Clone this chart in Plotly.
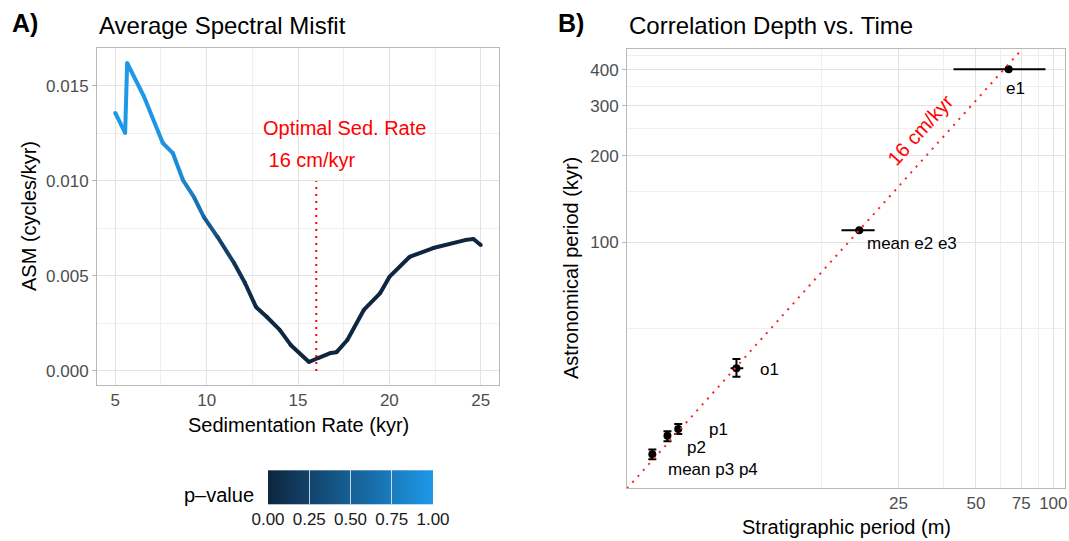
import plotly.graph_objects as go
from plotly.colors import sample_colorscale
import math

# ---------------- Panel A data ----------------
sed_rate = [5.0, 5.54, 5.65, 6.58, 7.6, 8.15, 8.7, 9.3, 9.85, 10.6, 11.5, 12.1, 12.7,
            13.3, 14.0, 14.6, 15.6, 16.1, 16.8, 17.1, 17.7, 18.6, 19.5, 20.0, 21.1,
            22.4, 24.2, 24.6, 25.0]
asm = [0.01358, 0.01253, 0.01621, 0.01442, 0.01200, 0.01147, 0.01005, 0.00916, 0.00810,
       0.00705, 0.00568, 0.00463, 0.00337, 0.00284, 0.00216, 0.00137, 0.00047, 0.00068,
       0.00095, 0.00098, 0.00163, 0.00321, 0.00410, 0.00495, 0.00600, 0.00647, 0.00690,
       0.00695, 0.00663]
p_value = [1.0, 1.0, 1.0, 1.0, 0.97, 0.93, 0.86, 0.75, 0.55, 0.32, 0.14, 0.06, 0.03,
           0.02, 0.01, 0.01, 0.0, 0.0, 0.0, 0.0, 0.0, 0.0, 0.0, 0.0, 0.0, 0.0, 0.0, 0.0, 0.0]
opt_rate = 16
opt_line_y = [0.0, 0.010]
cbar_ticks = [0.0, 0.25, 0.5, 0.75, 1.0]

# ---------------- Panel B data ----------------
labels = ["e1", "mean e2 e3", "o1", "p1", "p2", "mean p3 p4"]
strat = [67.0, 17.6, 5.86, 3.48, 3.16, 2.76]
strat_lo = [40.9, 15.0, 5.56, 3.40, 3.08, 2.69]
strat_hi = [93.2, 20.2, 6.23, 3.56, 3.24, 2.83]
astro = [402.0, 110.0, 36.2, 22.2, 21.0, 18.1]
astro_lo = [402.0, 110.0, 33.8, 21.3, 20.1, 17.4]
astro_hi = [402.0, 110.0, 39.0, 23.1, 21.8, 18.8]
sed_rate_cm_kyr = 16
x_ticks_b = [25, 50, 75, 100]
y_ticks_b = [100, 200, 300, 400]
x_minor_b = [12.5, 37.5, 62.5, 87.5]
y_minor_b = [50, 150, 250, 350, 450]

# ---------------- styling ----------------
W, H = 1069, 541
FONT = "Liberation Sans, Arial, Helvetica, sans-serif"
cscale = [[0.0, "#0E2640"], [1.0, "#1E98E8"]]
GRID = "#e3e3e3"
MINOR = "#efefef"
BORDER = "#b8b8b8"
TICKC = "#4d4d4d"

# layout boxes in pixels (left, top, right, bottom)
boxA = (97, 48, 499, 385)
boxB = (627, 49, 1065, 488)


def dom_x(b):
    return [b[0] / W, b[2] / W]


def dom_y(b):
    return [1 - b[3] / H, 1 - b[1] / H]


def px(x):
    return x / W


def py(y):
    return 1 - y / H


fig = go.Figure()

# Panel A: coloured line segments
for i in range(len(sed_rate) - 1):
    pm = (p_value[i] + p_value[i + 1]) / 2
    col = sample_colorscale(cscale, [pm])[0]
    fig.add_trace(go.Scatter(
        x=[sed_rate[i], sed_rate[i + 1]], y=[asm[i], asm[i + 1]],
        mode="lines", line=dict(color=col, width=4),
        showlegend=False, hoverinfo="skip", xaxis="x", yaxis="y"))

# joints + colourbar
fig.add_trace(go.Scatter(
    x=sed_rate, y=asm, mode="markers", showlegend=False, xaxis="x", yaxis="y",
    marker=dict(size=4, color=p_value, cmin=0, cmax=1, colorscale=cscale,
                line=dict(width=0), showscale=True,
                colorbar=dict(orientation="h", x=px(350.5), xanchor="center",
                              y=py(516.5), yanchor="middle",
                              len=165, lenmode="pixels", thickness=34,
                              thicknessmode="pixels", outlinewidth=0,
                              xpad=0, ypad=0,
                              tickvals=cbar_ticks,
                              ticktext=[f"{v:.2f}" for v in cbar_ticks],
                              ticks="inside", ticklen=34,
                              tickcolor="rgba(255,255,255,0.75)", tickwidth=1,
                              tickfont=dict(family=FONT, size=17, color="#1a1a1a")))))

# optimal rate dotted line
fig.add_trace(go.Scatter(
    x=[opt_rate, opt_rate], y=opt_line_y, mode="lines",
    line=dict(color="#ff0000", width=2, dash="2px,5px"),
    showlegend=False, hoverinfo="skip", xaxis="x", yaxis="y"))

# Panel B: points with error bars
fig.add_trace(go.Scatter(
    x=strat, y=astro, mode="markers", xaxis="x2", yaxis="y2", showlegend=False,
    marker=dict(color="black", size=8),
    error_x=dict(type="data", symmetric=False,
                 array=[h - v for h, v in zip(strat_hi, strat)],
                 arrayminus=[v - l for l, v in zip(strat_lo, strat)],
                 color="black", thickness=2, width=0),
    error_y=dict(type="data", symmetric=False,
                 array=[h - v for h, v in zip(astro_hi, astro)],
                 arrayminus=[v - l for l, v in zip(astro_lo, astro)],
                 color="black", thickness=2, width=4)))

# 16 cm/kyr reference line: astro (kyr) = strat (m) * 100 / rate
xr_b = [2.2, 111.0]
yr_b = [13.8, 473.0]
fig.add_trace(go.Scatter(
    x=xr_b, y=[v * 100 / sed_rate_cm_kyr for v in xr_b], mode="lines",
    line=dict(color="#ff2020", width=2, dash="2px,6px"),
    xaxis="x2", yaxis="y2", showlegend=False, hoverinfo="skip"))

axis_common = dict(showline=True, mirror=True, linecolor=BORDER, linewidth=1,
                   showgrid=True, gridcolor=GRID, gridwidth=1, zeroline=False,
                   automargin=False,
                   tickfont=dict(family=FONT, size=17, color=TICKC))
yticks = dict(ticks="outside", ticklen=4, tickcolor=BORDER)
xticks = dict(ticks="")

fig.update_layout(
    width=W, height=H, margin=dict(l=0, r=0, t=0, b=0, autoexpand=False),
    paper_bgcolor="white", plot_bgcolor="white", showlegend=False,
    xaxis=dict(domain=dom_x(boxA), anchor="y", range=[4.0, 26.0],
               tickvals=[5, 10, 15, 20, 25],
               minor=dict(tickvals=[7.5, 12.5, 17.5, 22.5], showgrid=True,
                          gridcolor=MINOR, gridwidth=1, ticks=""),
               **axis_common, **xticks),
    yaxis=dict(domain=dom_y(boxA), anchor="x", range=[-0.00074, 0.0170],
               tickvals=[0.0, 0.005, 0.010, 0.015], tickformat=".3f",
               minor=dict(tickvals=[0.0025, 0.0075, 0.0125], showgrid=True,
                          gridcolor=MINOR, gridwidth=1, ticks=""),
               **axis_common, **yticks),
    xaxis2=dict(domain=dom_x(boxB), anchor="y2", type="log",
                range=[math.log10(xr_b[0]), math.log10(xr_b[1])],
                tickvals=x_ticks_b, ticktext=[str(v) for v in x_ticks_b],
                minor=dict(tickvals=x_minor_b, showgrid=True, gridcolor=MINOR,
                           gridwidth=1, ticks=""),
                **axis_common, **xticks),
    yaxis2=dict(domain=dom_y(boxB), anchor="x2", type="log",
                range=[math.log10(yr_b[0]), math.log10(yr_b[1])],
                tickvals=y_ticks_b, ticktext=[str(v) for v in y_ticks_b],
                minor=dict(tickvals=y_minor_b, showgrid=True, gridcolor=MINOR,
                           gridwidth=1, ticks=""),
                **axis_common, **yticks),
)

ann = []


def text(x, y, s, size, color="black", xanchor="left", yanchor="middle",
         angle=0, bold=False, xref="paper", yref="paper", xshift=0, yshift=0):
    ann.append(dict(x=x, y=y, xref=xref, yref=yref, text=(f"<b>{s}</b>" if bold else s),
                    showarrow=False, xanchor=xanchor, yanchor=yanchor,
                    textangle=angle, xshift=xshift, yshift=yshift,
                    font=dict(family=FONT, size=size, color=color)))


# panel tags & titles
text(px(10), py(23), "A)", 25, bold=True)
text(px(97), py(25), "Average Spectral Misfit", 24)
text(px(556), py(23), "B)", 25, bold=True)
text(px(627), py(25), "Correlation Depth vs. Time", 24)

# axis titles
text(px(298), py(425), "Sedimentation Rate (kyr)", 20, xanchor="center")
text(px(29), py(216), "ASM (cycles/kyr)", 20, xanchor="center", angle=-90)
text(px(846), py(527), "Stratigraphic period (m)", 20, xanchor="center")
text(px(571), py(268), "Astronomical period (kyr)", 20, xanchor="center", angle=-90)

# colourbar title
text(px(256), py(495), "p–value", 20, xanchor="right")

# panel A annotation
text(13.0, 0.01279, "Optimal Sed. Rate", 20, color="#ff0000", xref="x", yref="y")
text(13.0, 0.01110, " 16 cm/kyr", 20, color="#ff0000", xref="x", yref="y")

# panel B line label
text(math.log10(30.4), math.log10(246), f"{sed_rate_cm_kyr} cm/kyr", 20, color="#ff0000",
     xanchor="center", angle=-48, xref="x2", yref="y2")

# point labels (pixel offsets from each point)
label_offsets = {"e1": (7, -19, "center"), "mean e2 e3": (6, -13, "left"),
                 "o1": (22, -1, "left"), "p1": (29, -1, "left"),
                 "p2": (18, -12, "left"), "mean p3 p4": (14, -15, "left")}
for lab, sx, sy in zip(labels, strat, astro):
    dx, dy, xa = label_offsets[lab]
    text(math.log10(sx), math.log10(sy), lab, 17, xanchor=xa, xref="x2", yref="y2",
         xshift=dx, yshift=dy)

fig.update_layout(annotations=ann)
fig.write_html("out.html")
